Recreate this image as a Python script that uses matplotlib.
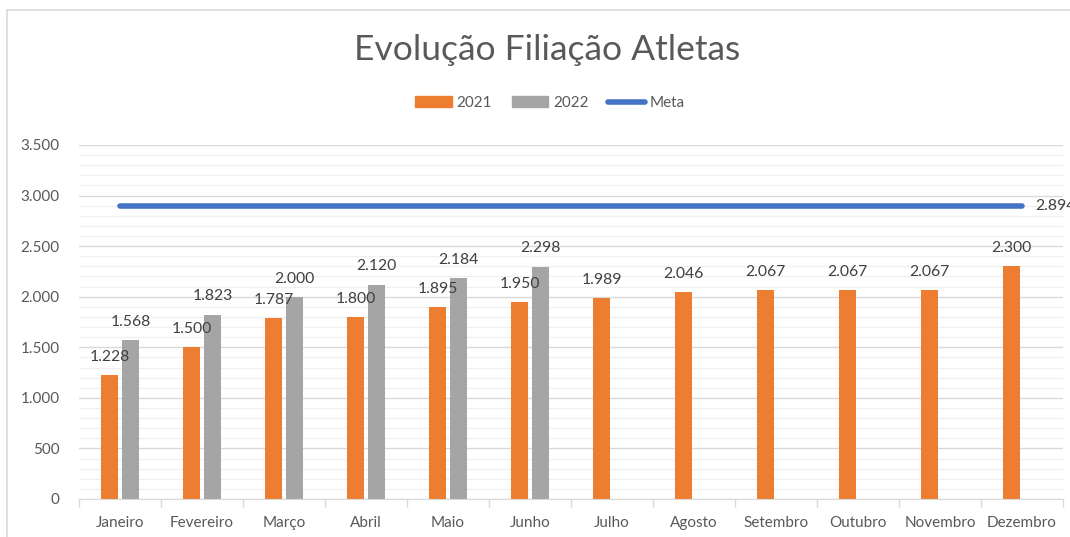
import matplotlib
matplotlib.use("Agg")
import matplotlib.pyplot as plt
import numpy as np
from matplotlib.patches import Rectangle
from matplotlib.lines import Line2D
from matplotlib.patches import Patch
from matplotlib.ticker import MultipleLocator, FuncFormatter

months = ["Janeiro", "Fevereiro", "Março", "Abril", "Maio", "Junho", "Julho",
          "Agosto", "Setembro", "Outubro", "Novembro", "Dezembro"]
v2021 = [1228, 1500, 1787, 1800, 1895, 1950, 1989, 2046, 2067, 2067, 2067, 2300]
v2022 = [1568, 1823, 2000, 2120, 2184, 2298]
meta = [2894] * 12

plt.rcParams['font.family'] = ['Lato', 'DejaVu Sans']
TXT = '#595959'
ORANGE = '#ED7D31'
GRAY = '#A5A5A5'
BLUE = '#4472C4'

def fmt(v):
    return f"{int(v):,}".replace(",", ".")

fig = plt.figure(figsize=(10.7, 5.37), dpi=100)
fig.patches.append(Rectangle((7/1070, -0.1), 1.2, (537-10)/537 + 0.1, transform=fig.transFigure,
                             fill=False, edgecolor='#D9D9D9', linewidth=1.2))
ax = fig.add_axes([79/1070, 1 - 499/537, (1063-79)/1070, (499-145)/537])

x = np.arange(len(months))
off = 0.128
w = 0.21
ax.bar(x - off, v2021, width=w, color=ORANGE, zorder=3)
ax.bar(x[:len(v2022)] + off, v2022, width=w, color=GRAY, zorder=3)
ax.plot(x, meta, color=BLUE, linewidth=4, solid_capstyle='round', zorder=4)

for xi, v in zip(x, v2021):
    ax.text(xi - off, v + 110, fmt(v), ha='center', va='bottom', fontsize=11.3, color='#404040', zorder=5)
for xi, v in zip(x[:len(v2022)], v2022):
    ax.text(xi + off, v + 110, fmt(v), ha='center', va='bottom', fontsize=11.3, color='#404040', zorder=5)
ax.text(x[-1] + 0.16, meta[-1], fmt(meta[-1]), ha='left', va='center', fontsize=11.3, color='#404040', clip_on=False)

ax.set_xlim(-0.5, len(months) - 0.5)
ax.set_ylim(0, 3500)
ax.yaxis.set_major_locator(MultipleLocator(500))
ax.yaxis.set_minor_locator(MultipleLocator(100))
ax.yaxis.set_major_formatter(FuncFormatter(lambda v, p: fmt(v)))
ax.grid(which='major', axis='y', color='#D9D9D9', linewidth=1, zorder=0)
ax.grid(which='minor', axis='y', color='#F0F0F0', linewidth=1, zorder=0)
for s in ['top', 'right', 'left']:
    ax.spines[s].set_visible(False)
ax.spines['bottom'].set_color('#D9D9D9')
ax.spines['bottom'].set_zorder(3)
ax.tick_params(axis='y', which='both', length=0, labelsize=11, labelcolor=TXT, pad=14)
ax.set_xticks(x)
ax.set_xticklabels(months)
ax.tick_params(axis='x', which='major', length=0, labelsize=11, labelcolor=TXT, pad=12)
ax.set_xticks(np.arange(-0.5, len(months), 1), minor=True)
ax.tick_params(axis='x', which='minor', length=6, color='#D9D9D9', width=1)

fig.text(547/1070, 1 - 50/537, "Evolução Filiação Atletas", ha='center', va='center', fontsize=25.5, color=TXT)

handles = [Patch(color=ORANGE), Patch(color=GRAY), Line2D([0], [0], color=BLUE, linewidth=4, solid_capstyle='round')]
leg = fig.legend(handles, ["2021", "2022", "Meta"], loc='center', bbox_to_anchor=(550/1070, 1 - 103/537),
                 ncol=3, frameon=False, fontsize=11, handlelength=2.4, handleheight=0.7,
                 columnspacing=1.3, handletextpad=0.3, labelcolor=TXT)

fig.savefig("out.png", dpi=100)
